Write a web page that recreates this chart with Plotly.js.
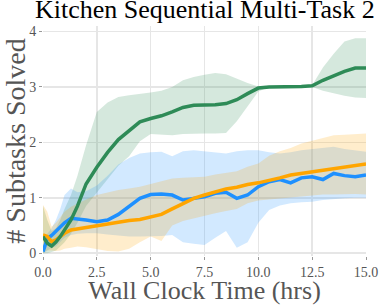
<!DOCTYPE html>
<html>
<head>
<meta charset="utf-8">
<script src="https://cdn.plot.ly/plotly-3.0.1.min.js"></script>
<style>html,body{margin:0;padding:0;background:#fff;}#chart{width:379px;height:305px;}</style>
</head>
<body>
<div id="chart"></div>
<script>
const timeHrs = [0,0.2,0.4,0.6,0.8,1.0,1.3,1.6,2.0,2.5,3.0,3.5,4.0,4.5,5.0,5.5,6.0,6.5,7.0,7.5,8.0,8.5,9.0,9.5,10.0,10.5,11.0,11.5,12.0,12.5,13.0,13.5,14.0,14.5,15.0];

const greenMean  = [0.30,0.18,0.13,0.20,0.30,0.42,0.60,0.85,1.25,1.55,1.82,2.05,2.22,2.37,2.43,2.48,2.55,2.63,2.67,2.67,2.68,2.70,2.77,2.88,2.98,3.00,3.00,3.01,3.01,3.02,3.12,3.20,3.28,3.34,3.34];
const greenUpper = [0.85,0.60,0.40,0.45,0.60,0.80,1.05,1.40,1.95,2.55,2.72,2.82,2.85,2.87,2.90,2.93,3.00,3.12,3.18,3.22,3.25,3.23,3.15,3.07,3.01,3.00,3.00,3.01,3.01,3.03,3.35,3.60,3.82,3.88,3.88];
const greenLower = [0.00,0.00,0.02,0.05,0.12,0.20,0.35,0.55,0.85,1.10,1.35,1.58,1.75,2.02,2.15,2.14,2.13,2.15,2.16,2.16,2.16,2.17,2.38,2.65,2.92,3.00,3.00,3.01,3.01,3.00,2.93,2.88,2.84,2.81,2.80];

const blueMean  = [0.03,0.26,0.32,0.40,0.48,0.55,0.63,0.62,0.60,0.57,0.60,0.70,0.85,0.99,1.06,1.07,1.05,0.96,0.99,1.02,1.08,1.10,0.99,1.05,1.20,1.29,1.33,1.27,1.36,1.38,1.33,1.44,1.40,1.38,1.41];
const blueUpper = [0.10,0.35,0.45,0.60,0.80,1.05,1.17,1.10,1.12,1.22,1.40,1.60,1.72,1.80,1.82,1.83,1.75,1.84,1.86,1.84,1.82,1.80,1.84,1.86,1.86,1.82,1.80,1.82,1.86,1.88,1.90,1.92,1.88,1.85,1.83];
const blueLower = [0.00,0.05,0.10,0.12,0.20,0.28,0.33,0.35,0.36,0.36,0.34,0.32,0.30,0.30,0.30,0.31,0.33,0.20,0.17,0.15,0.28,0.40,0.10,0.20,0.55,0.78,0.86,0.90,0.92,0.93,0.96,0.98,0.99,1.00,1.00];

const orangeMean  = [0.33,0.30,0.21,0.24,0.30,0.36,0.42,0.44,0.46,0.49,0.52,0.56,0.59,0.61,0.65,0.70,0.80,0.90,0.99,1.05,1.11,1.16,1.19,1.24,1.27,1.31,1.36,1.41,1.44,1.47,1.50,1.53,1.56,1.59,1.61];
const orangeUpper = [0.87,0.75,0.48,0.55,0.65,0.75,0.84,0.90,0.97,1.05,1.10,1.14,1.17,1.20,1.25,1.30,1.35,1.36,1.37,1.38,1.42,1.45,1.48,1.56,1.62,1.76,1.84,1.90,1.98,2.03,2.08,2.13,2.14,2.15,2.16];
const orangeLower = [0.00,0.05,0.05,0.04,0.05,0.08,0.10,0.12,0.11,0.07,0.04,0.03,0.08,0.20,0.30,0.22,0.50,0.58,0.63,0.68,0.72,0.76,0.80,0.90,0.95,0.97,0.99,1.01,1.03,1.05,1.06,1.06,1.07,1.07,1.06];

const xTickVals = [0,2.5,5,7.5,10,12.5,15];
const xTickText = ["0.0","2.5","5.0","7.5","10.0","12.5","15.0"];
const yTickVals = [0,1,2,3,4];
const yTickText = ["0","1","2","3","4"];
const chartTitle = "Kitchen Sequential Multi-Task 2";

const series = [
  {mean: blueMean, lo: blueLower, hi: blueUpper, color: "#1e90ff", fill: "rgba(30,144,255,0.2)"},
  {mean: orangeMean, lo: orangeLower, hi: orangeUpper, color: "#ffa500", fill: "rgba(255,165,0,0.2)"},
  {mean: greenMean, lo: greenLower, hi: greenUpper, color: "#2e8b57", fill: "rgba(46,139,87,0.2)"}
];

const traces = [];
[series[2], series[0], series[1]].forEach(s => {
  traces.push({x: timeHrs, y: s.lo, mode: "lines", line: {width: 0, color: s.fill}, showlegend: false, hoverinfo: "skip"});
  traces.push({x: timeHrs, y: s.hi, mode: "lines", line: {width: 0, color: s.fill}, fill: "tonexty", fillcolor: s.fill, showlegend: false, hoverinfo: "skip"});
});
series.forEach(s => {
  traces.push({x: timeHrs, y: s.mean, mode: "lines", line: {width: 3.5, color: s.color}, showlegend: false});
});

const font = "'Liberation Serif', serif";
const layout = {
  width: 379, height: 305,
  margin: {l: 43, r: 13, t: 26, b: 49},
  paper_bgcolor: "#fff", plot_bgcolor: "#fff",
  showlegend: false,
  annotations: [{
    text: chartTitle, xref: "paper", yref: "paper", x: 0.5, y: 1, xanchor: "center", yanchor: "bottom",
    yshift: 0, showarrow: false, font: {family: font, size: 26, color: "#000"}
  }],
  xaxis: {
    range: [0, 15], tickvals: xTickVals, ticktext: xTickText,
    showgrid: true, gridcolor: "#e6e6e6", gridwidth: 1.5, zeroline: false, showline: false,
    ticks: "outside", ticklen: 3, tickcolor: "#999", tickwidth: 1,
    tickfont: {family: font, size: 14, color: "#555"},
    title: {text: "Wall Clock Time (hrs)", font: {family: font, size: 26, color: "#555"}, standoff: 4}
  },
  yaxis: {
    range: [-0.05, 4.1], tickvals: yTickVals, ticktext: yTickText,
    showgrid: true, gridcolor: "#e6e6e6", gridwidth: 1.5, zeroline: false, showline: false,
    ticks: "outside", ticklen: 3, tickcolor: "#999", tickwidth: 1,
    tickfont: {family: font, size: 14, color: "#555"},
    title: {text: "# Subtasks Solved", font: {family: font, size: 28, color: "#555"}, standoff: 4}
  }
};

Plotly.newPlot("chart", traces, layout, {staticPlot: true, displayModeBar: false});
</script>
</body>
</html>
